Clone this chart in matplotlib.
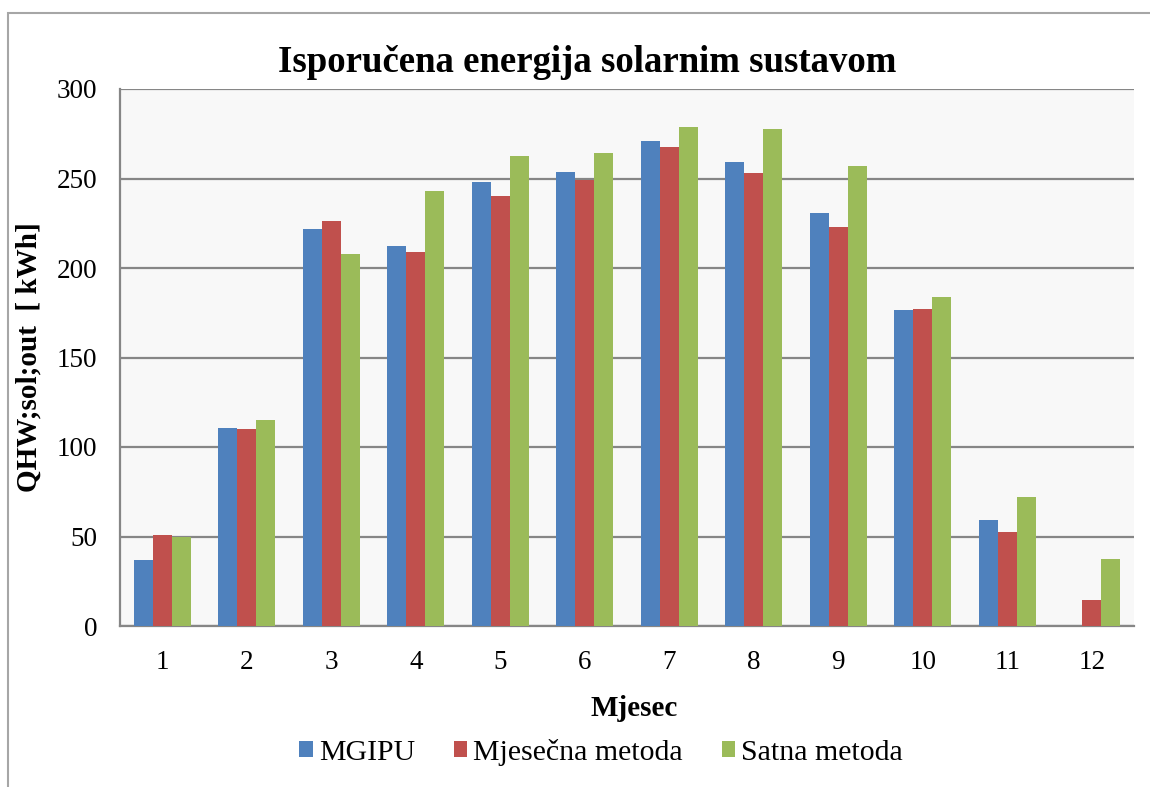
import matplotlib
matplotlib.use("Agg")
import matplotlib.pyplot as plt
import numpy as np
from matplotlib.patches import Rectangle

months = ["1", "2", "3", "4", "5", "6", "7", "8", "9", "10", "11", "12"]
mgipu = [37, 110.5, 222, 212.5, 248, 253.5, 271, 259, 230.5, 176.5, 59, 0]
mjesecna = [51, 110, 226.5, 209, 240.5, 249, 267.5, 253, 223, 177, 52.5, 14.5]
satna = [50, 115, 208, 243, 262.5, 264, 278.5, 277.5, 257, 184, 72, 37.5]
series_names = ["MGIPU", "Mjesečna metoda", "Satna metoda"]
colors = ["#4F81BD", "#C0504D", "#9BBB59"]

plt.rcParams['font.family'] = ['Liberation Serif', 'DejaVu Serif']

fig = plt.figure(figsize=(11.5, 7.87), dpi=100)
ax = fig.add_axes([120/1150, 1-626/787, (1134-120)/1150, (626-89)/787])

x = np.arange(len(months))
w = 0.225
for i, (vals, name, c) in enumerate(zip([mgipu, mjesecna, satna], series_names, colors)):
    ax.bar(x + (i-1)*w, vals, width=w, color=c, label=name, zorder=3, linewidth=0)

ax.set_xlim(-0.5, len(months)-0.5)
ax.set_ylim(0, 300)
ax.set_yticks(np.arange(0, 301, 50))
ax.set_xticks(x)
ax.set_xticklabels(months)
ax.set_facecolor("#F8F8F8")
ax.grid(axis='y', color='#868686', linewidth=1.6, zorder=0)
for s in ['top', 'right']:
    ax.spines[s].set_visible(False)
for s in ['left', 'bottom']:
    ax.spines[s].set_color('#868686')
    ax.spines[s].set_linewidth(1.6)
ax.tick_params(axis='both', length=0, labelsize=19.5, colors='black')
ax.tick_params(axis='x', pad=17)
ax.tick_params(axis='y', pad=16.5)

ax.set_title("Isporučena energija solarnim sustavom", fontsize=26.5, fontweight='bold',
             pad=12, x=(587-120)/1014)
ax.set_xlabel("Mjesec", fontsize=21, fontweight='bold')
ax.xaxis.set_label_coords((634-120)/1014, -(708-626)/537)
ax.xaxis.label.set_verticalalignment('center')
ax.set_ylabel("QHW;sol;out  [ kWh]", fontsize=21, fontweight='bold')
ax.yaxis.set_label_coords(-(120-29)/1014, 0.5)
ax.yaxis.label.set_verticalalignment('center')

leg = fig.legend(loc='center', bbox_to_anchor=(601/1150, 1-752/787), ncol=3, frameon=False,
                 fontsize=21.5, handlelength=0.45, handleheight=0.45, handletextpad=0.2,
                 columnspacing=1.3)

# outer chart border
fig.patches.append(Rectangle((8/1150, -0.05), 1.2, 1-13/787+0.05, transform=fig.transFigure,
                             fill=False, edgecolor='#A6A6A6', linewidth=1.5))

fig.savefig("out.png", dpi=100)
